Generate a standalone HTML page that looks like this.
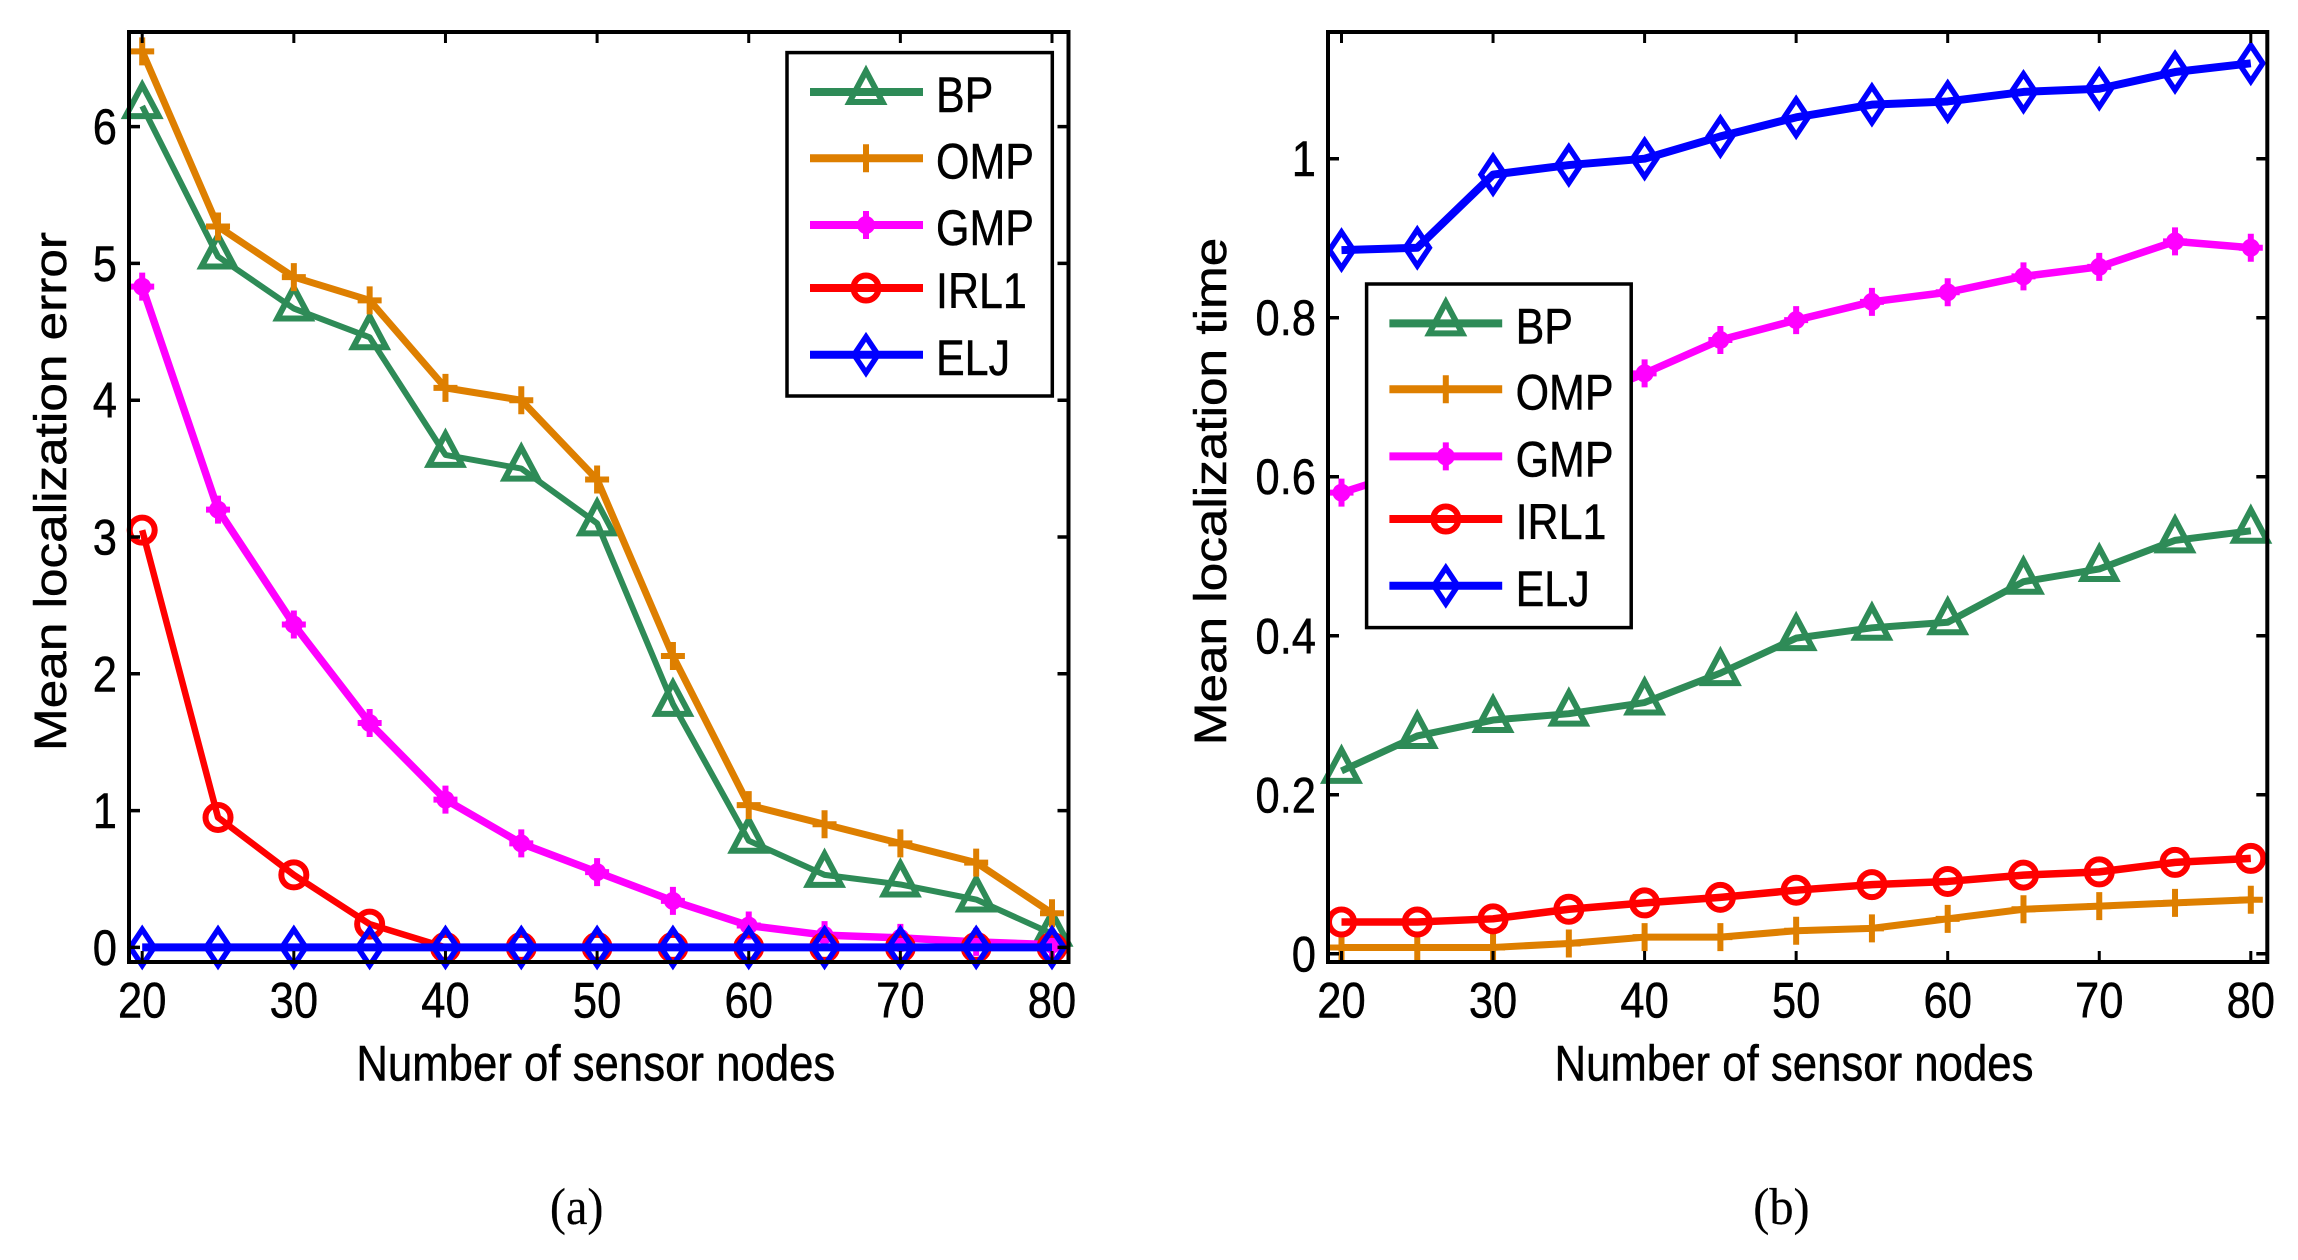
<!DOCTYPE html>
<html lang="en">
<head>
<meta charset="utf-8">
<title>Mean localization error and time versus number of sensor nodes</title>
<style>
html,body{margin:0;padding:0;background:#fff;}
svg{display:block;width:2298px;height:1260px;}
text{font-family:"Liberation Sans",sans-serif;fill:#000;stroke:#000;stroke-width:0.5px;}
text.serif{font-family:"Liberation Serif",serif;stroke-width:0.2px;}
</style>
</head>
<body>
<svg id="figure" xmlns="http://www.w3.org/2000/svg" width="2298" height="1260" viewBox="0 0 2298 1260"></svg>
<script>
const sensorNodes = [20,25,30,35,40,45,50,55,60,65,70,75,80];
const xTickLabels = [20,30,40,50,60,70,80];
const errorTickLabels = [0,1,2,3,4,5,6];
const timeTickLabels = [0,0.2,0.4,0.6,0.8,1];
const seriesNames = ['BP','OMP','GMP','IRL1','ELJ'];

const errorBP   = [6.15,5.05,4.67,4.46,3.60,3.50,3.10,1.78,0.78,0.53,0.46,0.35,0.10];
const errorOMP  = [6.55,5.27,4.90,4.73,4.09,4.00,3.42,2.13,1.04,0.90,0.76,0.62,0.25];
const errorGMP  = [4.83,3.20,2.36,1.64,1.08,0.76,0.55,0.34,0.16,0.09,0.07,0.04,0.02];
const errorIRL1 = [3.05,0.95,0.53,0.17,0,0,0,0,0,0,0,0,0];
const errorELJ  = [0,0,0,0,0,0,0,0,0,0,0,0,0];

const timeBP   = [0.230,0.274,0.294,0.302,0.316,0.353,0.397,0.410,0.417,0.468,0.484,0.520,0.532];
const timeOMP  = [0.008,0.008,0.008,0.013,0.021,0.021,0.029,0.032,0.044,0.056,0.060,0.064,0.068];
const timeGMP  = [0.580,0.610,0.650,0.690,0.730,0.772,0.797,0.820,0.832,0.852,0.864,0.896,0.888];
const timeIRL1 = [0.040,0.040,0.044,0.056,0.064,0.071,0.080,0.087,0.091,0.099,0.103,0.115,0.120];
const timeELJ  = [0.885,0.888,0.980,0.992,1.000,1.028,1.052,1.068,1.072,1.084,1.088,1.109,1.120];

const NS = 'http://www.w3.org/2000/svg';
const root = document.getElementById('figure');
const colors = {BP:'#2e8b57', OMP:'#de7f00', GMP:'#ff00ff', IRL1:'#ff0000', ELJ:'#0000ff'};

function make(tag, parent, attrs) {
  const el = document.createElementNS(NS, tag);
  for (const k in attrs) el.setAttribute(k, attrs[k]);
  parent.appendChild(el);
  return el;
}
function label(parent, str, x, y, size, sx, anchor, rot, cls) {
  const el = make('text', parent, {
    'font-size': size,
    'text-anchor': anchor,
    transform: 'translate(' + x + ',' + y + ') rotate(' + rot + ') scale(' + sx + ',1)'
  });
  if (cls) el.setAttribute('class', cls);
  el.textContent = str;
  return el;
}
function drawMarker(parent, name, x, y) {
  const c = colors[name];
  const g = make('g', parent, {});
  if (name === 'BP') {
    make('polygon', g, {points:(x)+','+(y-21)+' '+(x+16.5)+','+(y+10)+' '+(x-16.5)+','+(y+10), fill:'none', stroke:c, 'stroke-width':6, 'stroke-linejoin':'miter'});
  } else if (name === 'OMP') {
    make('path', g, {d:'M'+(x-12)+' '+y+'H'+(x+12)+'M'+x+' '+(y-14)+'V'+(y+14), fill:'none', stroke:c, 'stroke-width':6});
  } else if (name === 'GMP') {
    make('circle', g, {cx:x, cy:y, r:9, fill:c});
    make('path', g, {d:'M'+(x-12)+' '+y+'H'+(x+12)+'M'+x+' '+(y-14)+'V'+(y+14), fill:'none', stroke:c, 'stroke-width':6});
  } else if (name === 'IRL1') {
    make('circle', g, {cx:x, cy:y, r:12.5, fill:'none', stroke:c, 'stroke-width':6});
  } else {
    make('polygon', g, {points:x+','+(y-18)+' '+(x+12)+','+y+' '+x+','+(y+18)+' '+(x-12)+','+y, fill:'none', stroke:c, 'stroke-width':5.5});
  }
  return g;
}
function drawSeries(parent, name, values, xScale, yScale, width) {
  const g = make('g', parent, {});
  
  
  const pts = values.map(function (v, i) { return xScale(sensorNodes[i]) + ',' + yScale(v); }).join(' ');
  const line = make('polyline', g, {points:pts, fill:'none', stroke:colors[name], 'stroke-width':width, 'stroke-linejoin':'round'});
  
  
  values.forEach(function (v, i) {
    const m = drawMarker(g, name, xScale(sensorNodes[i]), yScale(v));
    
    
  });
}
function drawAxes(parent, p, xScale, yScale, yTicks) {
  const g = make('g', parent, {});
  
  
  make('rect', g, {x:p.left, y:p.top, width:p.right-p.left, height:p.bottom-p.top, fill:'none', stroke:'#000', 'stroke-width':4});
  xTickLabels.forEach(function (v) {
    const x = xScale(v);
    make('path', g, {d:'M'+x+' '+p.top+'v11M'+x+' '+p.bottom+'v-11', stroke:'#000', 'stroke-width':3, fill:'none'});
    const t = label(parent, String(v), x, 1017.5, 50, 0.87, 'middle', 0);
    
    
  });
  yTicks.forEach(function (v) {
    const y = yScale(v);
    make('path', g, {d:'M'+p.left+' '+y+'h11M'+p.right+' '+y+'h-11', stroke:'#000', 'stroke-width':3.5, fill:'none'});
    const t = label(parent, String(v), p.left-12, y+17.5, 50, 0.87, 'end', 0);
    
    
  });
}
function drawLegend(parent, box, rowYs, lineX0, lineX1, markerX, textX) {
  const g = make('g', parent, {});
  
  
  make('rect', g, {x:box[0], y:box[1], width:box[2]-box[0], height:box[3]-box[1], fill:'#fff', stroke:'#000', 'stroke-width':3.5});
  seriesNames.forEach(function (name, i) {
    const e = make('g', g, {});
    
    
    make('line', e, {x1:lineX0, x2:lineX1, y1:rowYs[i], y2:rowYs[i], stroke:colors[name], 'stroke-width':8});
    drawMarker(e, name, markerX, rowYs[i]);
    label(e, name, textX-2, rowYs[i]+20, 50, 0.86, 'start', 0);
  });
}
function drawPanel(p) {
  const g = make('g', root, {});
  
  
  const xScale = function (v) { return p.x20 + (v - 20) * (p.x80 - p.x20) / 60; };
  const yScale = function (v) { return p.y0 + v * (p.y1 - p.y0) / p.y1Value; };
  seriesNames.forEach(function (name, i) {
    drawSeries(g, name, p.data[i], xScale, yScale, p.widths[i]);
  });
  drawAxes(g, p, xScale, yScale, p.yTicks);
  drawLegend(g, p.legendBox, p.legendRows, p.legendLine[0], p.legendLine[1], p.legendLine[2], p.legendLine[3]);
  const xt = label(g, 'Number of sensor nodes', p.xTitleX, 1080.5, 50, 0.875, 'middle', 0);
  
  
  const yt = label(g, p.yTitle, p.yTitleX, 491.5, 45, p.yTitleScale, 'middle', -90);
  
  
  const cap = label(g, p.caption, p.captionX, 1224, 52, 0.93, 'middle', 0, 'serif');
  
  
}

drawPanel({
  name:'panel-a-error-chart', left:129, right:1068.5, top:32, bottom:962,
  x20:142.2, x80:1052, y0:947.4, y1:126.6, y1Value:6,
  data:[errorBP,errorOMP,errorGMP,errorIRL1,errorELJ], widths:[6,7,7.5,6.5,8],
  yTicks:errorTickLabels,
  legendBox:[787,52.6,1052.3,396], legendRows:[92,158.3,225,288,354.8], legendLine:[810,923,866,938],
  xTitleX:595.8, yTitle:'Mean localization error', yTitleX:66, yTitleScale:1.14,
  caption:'(a)', captionX:576.7
});
drawPanel({
  name:'panel-b-time-chart', left:1328, right:2267.3, top:32, bottom:962,
  x20:1341.5, x80:2250.8, y0:953.8, y1:158.7, y1Value:1,
  data:[timeBP,timeOMP,timeGMP,timeIRL1,timeELJ], widths:[7,7,7.5,7.5,8],
  yTicks:timeTickLabels,
  legendBox:[1366.6,284,1631.2,627.6], legendRows:[323.4,389.3,456.4,519,585.8], legendLine:[1389.4,1502.2,1445.8,1517.6],
  xTitleX:1794, yTitle:'Mean localization time', yTitleX:1226, yTitleScale:1.14,
  caption:'(b)', captionX:1781.4
});
</script>
</body>
</html>
